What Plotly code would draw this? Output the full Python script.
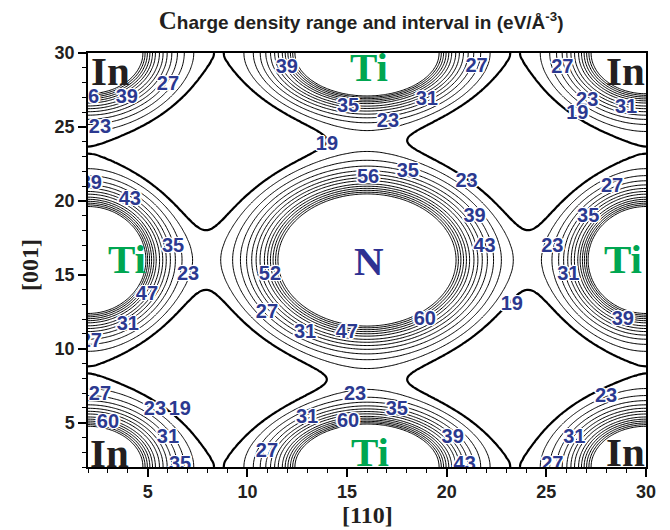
import numpy as np
import plotly.graph_objects as go

# Lattice sites in the slice: In at the corners, Ti on the edges, N at the centre
site_name = ["In", "Ti", "Ti", "N"]
site_x = [2.0, 16.0, 2.0, 16.0]
site_y = [2.0, 2.0, 16.0, 16.0]
# peak charge of each site and its decay length along [110] and [001]
site_peak = [325.0, 529.0, 529.0, 700.0]
site_decay_x = [1.755, 1.755, 1.40, 1.92]
site_decay_y = [1.755, 1.40, 1.755, 1.92]
background = 3.0
period = 28.0

# Contour levels (eV/Å^-3)
levels = [19, 23, 27, 31, 35, 39, 43, 47, 52, 56, 60, 64, 68, 72]

# Contour labels: level and where it sits on its line
lab_level = [39, 27, 56, 39, 23, 19, 39, 43, 35, 23, 52, 47, 31, 27, 27, 31, 47, 60, 19, 39,
             27, 23, 19, 60, 31, 35, 27, 31, 23, 60, 35, 39, 43, 27, 31, 23,
             27, 27, 35, 31, 23, 23, 19, 31, 56, 35, 23, 39, 43, 27, 35, 23, 31]
lab_x = [11.98, 6.01, 2.0, 3.95, 2.6, 13.99, 2.14, 4.1, 6.27, 7.02, 11.13, 4.96, 4.0, 2.14, 10.98, 12.89, 14.99, 18.9, 23.27, 28.84,
         2.6, 5.36, 6.61, 3.0, 6.01, 6.62, 10.98, 12.99, 15.4, 15.05, 17.5, 20.3, 20.9, 25.3, 26.4, 28.0,
         21.5, 25.8, 15.05, 19.0, 17.05, 27.05, 26.55, 29.0, 16.05, 18.05, 21.0, 21.4, 21.9, 28.3, 27.1, 25.3, 26.1]
lab_y = [28.99, 27.84, 26.96, 26.96, 24.93, 23.78, 21.14, 20.06, 16.88, 14.99, 14.99, 13.64, 11.6, 10.46, 12.42, 11.07, 11.07, 11.95, 12.96, 11.95,
         6.88, 5.86, 5.86, 5.0, 3.97, 2.14, 3.02, 5.32, 6.88, 5.05, 5.86, 3.97, 2.14, 2.14, 3.97, 6.74,
         29.05, 28.99, 26.35, 26.82, 25.33, 26.75, 25.9, 26.28, 21.55, 21.95, 21.28, 18.9, 16.88, 20.94, 18.9, 16.88, 14.99]

# Atom names drawn on the map
atom_text = ["In", "In", "In", "In", "Ti", "Ti", "Ti", "Ti", "N"]
atom_x = [3.15, 28.95, 3.1, 28.95, 16.1, 3.95, 28.85, 16.15, 16.1]
atom_y = [28.8, 28.8, 2.95, 3.0, 29.05, 16.05, 16.05, 3.0, 15.9]
atom_color = {"In": "#231f20", "Ti": "#00a651", "N": "#2e3192"}

# Charge density on a regular grid, periodic images included
gx = np.linspace(2, 30, 141)
gy = np.linspace(2, 30, 141)
X, Y = np.meshgrid(gx, gy)
rho = np.full_like(X, background)
for sx, sy, a, lx, ly in zip(site_x, site_y, site_peak, site_decay_x, site_decay_y):
    for i in (-1, 0, 1):
        for j in (-1, 0, 1):
            dx = (X - (sx + i * period)) / lx
            dy = (Y - (sy + j * period)) / ly
            rho += a * np.exp(-np.sqrt(dx * dx + dy * dy))
rho = np.round(rho, 2)

fig = go.Figure()
for lv in levels:
    fig.add_trace(go.Contour(
        x=gx, y=gy, z=rho,
        autocontour=False,
        contours=dict(start=lv, end=lv, size=1, coloring="none", showlabels=False),
        line=dict(color="black", width=2.2 if lv == levels[0] else 1.0, smoothing=0.6),
        showscale=False, hoverinfo="skip",
    ))

fig.add_trace(go.Scatter(
    x=lab_x, y=lab_y, mode="text",
    text=[str(v) for v in lab_level],
    textposition="middle center",
    textfont=dict(family="Liberation Sans", size=20, color="#2b3990", weight="bold",
                  shadow="1px 1px 0 #fff, -1px -1px 0 #fff, 1px -1px 0 #fff, -1px 1px 0 #fff, 2px 0 0 #fff, -2px 0 0 #fff"),
    cliponaxis=True, hoverinfo="skip", showlegend=False,
))

for t, ax_, ay_ in zip(atom_text, atom_x, atom_y):
    fig.add_annotation(x=ax_, y=ay_, xref="x", yref="y", text=t, showarrow=False,
                       font=dict(family="Liberation Serif", size=41, color=atom_color[t], weight="bold"),
                       xanchor="center", yanchor="middle")

axis_font = dict(family="Liberation Serif", size=24, color="#231f20", weight="bold")
fig.add_annotation(x=0.5, y=-0.116, xref="paper", yref="paper", text="[110]", showarrow=False,
                   font=axis_font, xanchor="center", yanchor="middle")
fig.add_annotation(x=-0.104, y=0.488, xref="paper", yref="paper", text="[001]", showarrow=False,
                   font=axis_font, textangle=-90, xanchor="center", yanchor="middle")

axis_common = dict(
    showline=True, linecolor="black", linewidth=1.5, mirror=True,
    ticks="outside", ticklen=8, tickwidth=1.5, tickcolor="black",
    minor=dict(ticks="outside", ticklen=4, dtick=1, tickwidth=1, tickcolor="black"),
    showgrid=False, zeroline=False, automargin=False,
    tickfont=dict(family="Liberation Sans", size=18, color="#231f20", weight="bold"),
    range=[2, 30], tick0=5, dtick=5,
)
fig.update_xaxes(**axis_common)
fig.update_yaxes(**axis_common)

fig.update_layout(
    width=670, height=530,
    margin=dict(l=88, r=24, t=53, b=63),
    paper_bgcolor="white", plot_bgcolor="white",
    showlegend=False,
    title=dict(
        text='<span style="font-family:Liberation Serif;font-size:25px">C</span>harge density range and interval in (eV/Å<sup>-3</sup>)',
        x=0.539, xanchor="center", y=0.957, yanchor="middle", automargin=False,
        font=dict(family="Liberation Sans", size=19, color="#231f20", weight="bold"),
    ),
)

fig.write_html("out.html")
